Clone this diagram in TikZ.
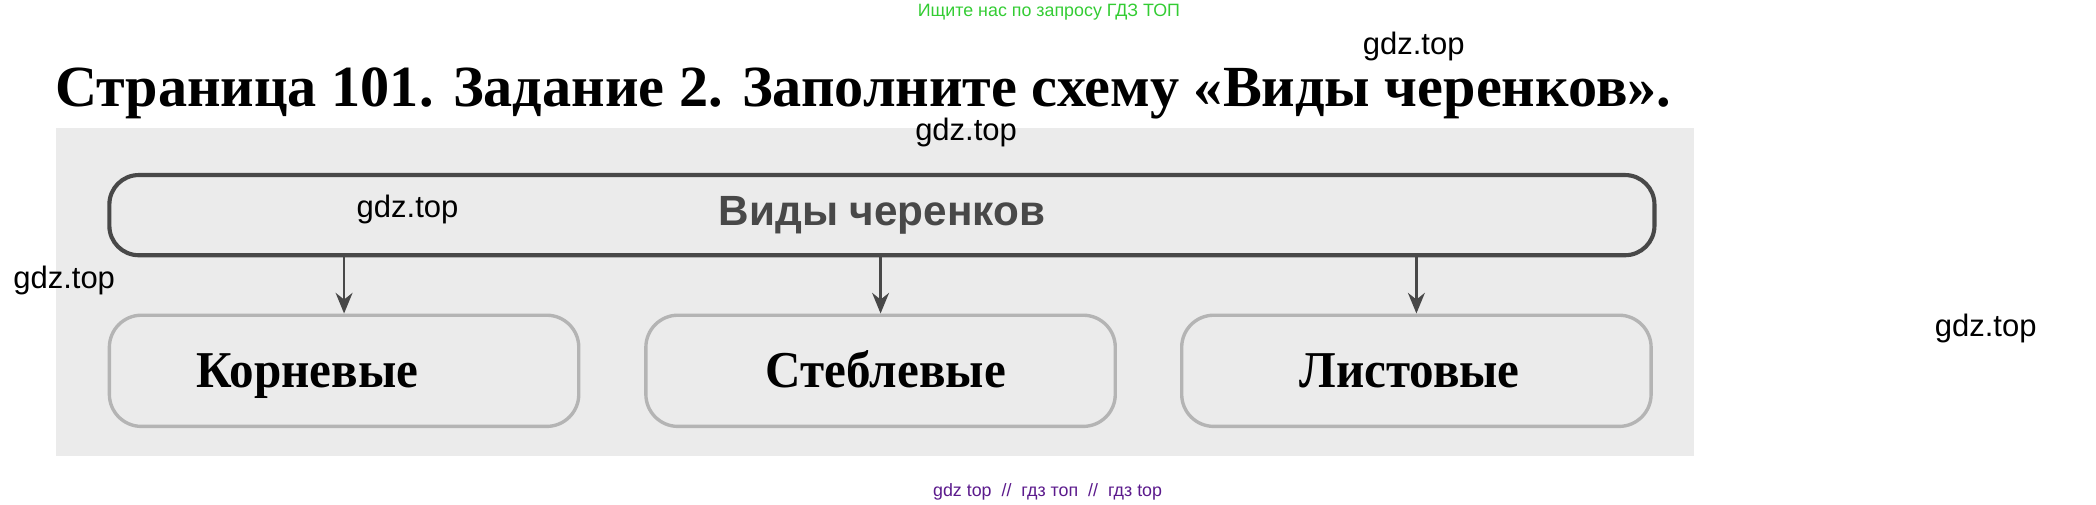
\documentclass[tikz,border=0pt]{standalone}
\usepackage{fontspec}
\setmainfont{Liberation Serif}
\setsansfont{Liberation Sans}
\usetikzlibrary{positioning,arrows.meta}

\definecolor{paper}{HTML}{EBEBEB}
\definecolor{frame}{HTML}{484848}
\definecolor{soft}{HTML}{B4B4B4}
\definecolor{hint}{HTML}{33CC33}
\definecolor{plum}{HTML}{5B1A8C}

\tikzset{
  head/.style={draw=frame, line width=2.2pt, rounded corners=0.55cm,
    minimum width=28.9cm, minimum height=1.5cm,
    font=\sffamily\bfseries\fontsize{22.5}{26}\selectfont, text=frame},
  kind/.style={draw=soft, line width=1.8pt, rounded corners=0.6cm,
    minimum width=8.78cm, minimum height=2.08cm},
  kindname/.style={anchor=base, inner sep=0pt, xscale=0.95,
    font=\bfseries\fontsize{27.5}{32}\selectfont},
  wm/.style={inner sep=0pt, font=\sffamily\fontsize{16.5}{18}\selectfont},
  link/.style={draw=frame, line width=1.3pt, -{Stealth[length=11pt,width=9pt]}}
}

\begin{document}
\begin{tikzpicture}[x=0.025cm,y=-0.025cm]
  \useasboundingbox (0,0) rectangle (1568.6,377.2);
  \fill[paper] (42,96) rectangle (1268,341);
  % top line and title
  \node[text=hint, font=\sffamily\fontsize{9.5}{11}\selectfont] (ask) at (785,9) {Ищите нас по запросу ГДЗ ТОП};
  \node[anchor=base, inner sep=0pt, font=\bfseries\fontsize{31}{36}\selectfont] (title) at (646,80)
    {Страница 101. Задание 2. Заполните схему «Виды черенков».};
  % scheme
  \node[head] (kinds) at (660,161) {Виды черенков};
  \node[kind] (root) at (257.5,277.5) {};
  \node[kind] (stem) at (659,277.5) {};
  \node[kind] (leaf) at (1060,277.5) {};
  \node[kindname] (rootname) at (230,290) {Корневые};
  \node[kindname] (stemname) at (663,290) {Стеблевые};
  \node[kindname] (leafname) at (1055,290) {Листовые};
  \foreach \k in {root,stem,leaf}
    \draw[link] (kinds.south -| \k.north) -- (\k.north);
  % watermarks
  \node[wm] (w1) at (1058,35) {gdz.top};
  \node[wm] (w2) at (723,99) {gdz.top};
  \node[wm] (w3) at (305,157) {gdz.top};
  \node[wm] (w4) at (48,210) {gdz.top};
  \node[wm] (w5) at (1486,246) {gdz.top};
  \node[text=plum, font=\sffamily\fontsize{9.5}{11}\selectfont] (foot) at (784,368)
    {gdz top \ // \ гдз топ \ // \ гдз top};
\end{tikzpicture}
\end{document}
